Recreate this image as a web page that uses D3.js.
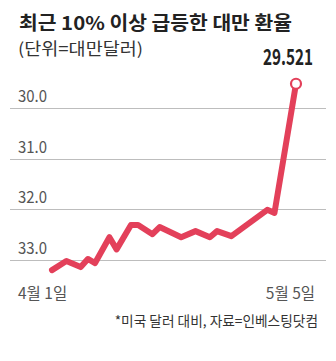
<!DOCTYPE html>
<html><head><meta charset="utf-8">
<script src="https://cdn.jsdelivr.net/npm/d3@7/dist/d3.min.js"></script>
<style>
html,body{margin:0;padding:0;background:#fff;}
svg{display:block;}
text{font-family:"Noto Sans CJK KR","Noto Sans",sans-serif;}
</style></head>
<body>
<svg id="c" width="336" height="361"></svg>
<script>
const title = "최근 10% 이상 급등한 대만 환율";
const subtitle = "(단위=대만달러)";
const footnote = "*미국 달러 대비, 자료=인베스팅닷컴";
const dates = ["2025-04-01","2025-04-03","2025-04-05","2025-04-06","2025-04-07","2025-04-09","2025-04-10","2025-04-12","2025-04-13","2025-04-15","2025-04-16","2025-04-19","2025-04-21","2025-04-23","2025-04-24","2025-04-26","2025-05-01","2025-05-02","2025-05-05"];
const values = [33.20,33.02,33.14,32.98,33.06,32.55,32.79,32.31,32.31,32.49,32.35,32.55,32.43,32.55,32.43,32.53,32.01,32.07,29.521];
const yTicks = [30.0,31.0,32.0,33.0];
const xLabels = ["4월 1일","5월 5일"];
const lastLabel = "29.521";

const parse = d3.utcParse("%Y-%m-%d");
const data = dates.map((d,i)=>({date:parse(d), v:values[i]}));
const svg = d3.select("#c");

const x = d3.scaleUtc().domain([parse(dates[0]), parse(dates[dates.length-1])]).range([52,296]);
const y = d3.scaleLinear().domain([30,33]).range([108,260]);

svg.append("text").attr("x",19).attr("y",30).attr("font-size",19).attr("font-weight",700).attr("fill","#222")
  .attr("textLength",273).attr("lengthAdjust","spacingAndGlyphs").text(title);
svg.append("text").attr("x",18).attr("y",54.5).attr("font-size",16.5).attr("fill","#333")
  .attr("textLength",125).attr("lengthAdjust","spacingAndGlyphs").text(subtitle);

// grid
const g = svg.append("g");
g.selectAll("line").data(yTicks).join("line")
  .attr("x1",10).attr("x2",326)
  .attr("y1",d=>Math.round(y(d))+0.5).attr("y2",d=>Math.round(y(d))+0.5)
  .attr("stroke","#bdbdbd").attr("stroke-width",1);
g.selectAll("text").data(yTicks).join("text")
  .attr("x",18).attr("y",d=>y(d)-6)
  .attr("font-family","'Liberation Sans',Arial,sans-serif")
  .attr("font-size",16).attr("fill","#555")
  .attr("textLength",29).attr("lengthAdjust","spacingAndGlyphs")
  .text(d=>d3.format(".1f")(d));

// line
const line = d3.line().x(d=>x(d.date)).y(d=>y(d.v));
svg.append("path").datum(data).attr("d",line)
  .attr("fill","none").attr("stroke","#e3405a").attr("stroke-width",6)
  .attr("stroke-linejoin","round").attr("stroke-linecap","round");

const last = data[data.length-1];
svg.append("circle").attr("cx",x(last.date)).attr("cy",y(last.v)).attr("r",5)
  .attr("fill","#fff").attr("stroke","#e3405a").attr("stroke-width",2.2);
svg.append("text").attr("x",x(last.date)-8).attr("y",y(last.v)-19)
  .attr("text-anchor","middle").attr("font-family","'Liberation Sans',Arial,sans-serif")
  .attr("font-size",22).attr("font-weight",700).attr("fill","#222")
  .attr("textLength",50).attr("lengthAdjust","spacingAndGlyphs")
  .text(lastLabel);

// x labels
svg.append("text").attr("x",18).attr("y",299).attr("font-size",15.5).attr("fill","#555").text(xLabels[0]);
svg.append("text").attr("x",315).attr("y",299).attr("text-anchor","end").attr("font-size",15.5).attr("fill","#555").text(xLabels[1]);

svg.append("text").attr("x",318).attr("y",326).attr("text-anchor","end").attr("font-size",13.7).attr("fill","#333").text(footnote);
</script>
</body></html>
